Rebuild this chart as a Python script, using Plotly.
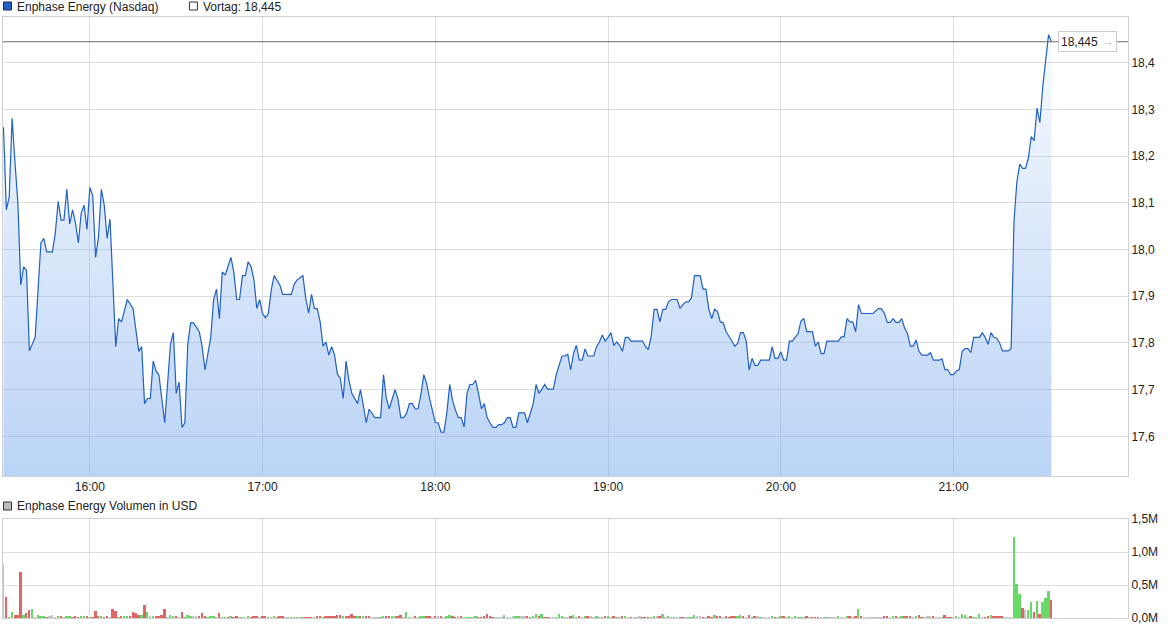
import plotly.graph_objects as go
from datetime import datetime, timedelta

# ---------------- data ----------------
SESSION_START = datetime(2024, 5, 6, 15, 30)
stock_name = "Enphase Energy"
exchange = "Nasdaq"
prev_close = 18.445
last_price = 18.445
x_tick_hours = [16, 17, 18, 19, 20, 21]
x_tick_labels = ["16:00", "17:00", "18:00", "19:00", "20:00", "21:00"]

# minutes after 15:30 and traded price
price_minute = [0,1,2,3,4,5,6,7,8,9,11,13,14,15,17,18,19,20,21,22,23,24,25,26,27,28,29,30,31,32,33,34,35,36,37,39,40,41,43,45,47,48,49,50,51,52,53,54,56,58,59,60,61,62,63,64,65,66,68,69,70,72,73,74,75,76,77,79,80,81,82,83,84,85,86,87,88,89,90,91,92,93,94,96,97,100,101,102,104,105,106,107,108,109,110,111,112,113,114,115,116,117,118,119,120,121,123,124,125,126,127,129,131,132,133,134,136,137,138,139,140,141,142,143,144,145,146,147,148,149,150,151,152,153,154,155,156,157,158,159,160,161,162,163,164,165,166,167,168,169,170,171,172,173,174,175,176,177,178,179,180,181,182,183,184,185,186,187,188,189,191,192,193,194,195,196,197,198,199,200,201,202,203,205,206,207,208,209,210,211,212,213,214,215,216,217,218,222,223,224,225,226,227,228,229,230,231,232,234,235,236,237,238,239,240,242,243,244,245,246,247,248,249,250,251,252,253,254,255,256,257,258,259,260,261,262,263,266,267,268,269,270,271,272,273,274,275,276,277,278,279,281,282,283,284,285,286,290,291,292,293,294,295,296,297,298,302,303,304,305,306,307,308,309,310,311,312,313,314,315,316,317,318,319,321,322,323,325,326,327,328,329,330,331,332,333,334,335,336,337,339,340,341,342,343,344,345,346,347,349,350,351,352,353,354,355,356,357,358,359,360,361,362,363,364]
price_value = [18.262,18.085,18.113,18.281,18.186,18.100,17.924,17.963,17.955,17.783,17.812,18.014,18.024,17.995,17.995,18.035,18.103,18.063,18.063,18.129,18.055,18.085,18.057,18.014,18.078,18.095,18.043,18.133,18.115,17.983,18.027,18.129,18.095,18.024,18.065,17.792,17.852,17.845,17.893,17.874,17.782,17.792,17.670,17.681,17.681,17.761,17.740,17.731,17.629,17.797,17.822,17.692,17.716,17.619,17.629,17.797,17.843,17.843,17.824,17.792,17.742,17.812,17.893,17.915,17.852,17.952,17.945,17.983,17.952,17.893,17.893,17.944,17.944,17.974,17.963,17.935,17.874,17.893,17.863,17.854,17.863,17.913,17.944,17.924,17.904,17.904,17.926,17.935,17.944,17.895,17.864,17.904,17.874,17.873,17.845,17.793,17.802,17.774,17.792,17.774,17.733,17.724,17.681,17.761,17.720,17.692,17.670,17.700,17.666,17.629,17.658,17.640,17.640,17.732,17.681,17.659,17.700,17.681,17.640,17.640,17.649,17.670,17.670,17.659,17.659,17.690,17.732,17.713,17.681,17.656,17.629,17.629,17.609,17.609,17.650,17.711,17.677,17.656,17.640,17.640,17.620,17.692,17.711,17.711,17.720,17.692,17.659,17.670,17.640,17.629,17.619,17.619,17.625,17.625,17.629,17.640,17.640,17.619,17.619,17.650,17.650,17.650,17.629,17.650,17.670,17.711,17.692,17.701,17.711,17.701,17.701,17.732,17.752,17.772,17.772,17.776,17.742,17.777,17.795,17.763,17.763,17.787,17.772,17.772,17.792,17.802,17.817,17.804,17.812,17.822,17.794,17.802,17.795,17.782,17.812,17.812,17.804,17.804,17.792,17.786,17.815,17.872,17.872,17.845,17.872,17.872,17.888,17.893,17.893,17.874,17.882,17.888,17.888,17.897,17.944,17.944,17.915,17.915,17.872,17.852,17.872,17.867,17.845,17.843,17.824,17.815,17.804,17.793,17.799,17.822,17.822,17.804,17.742,17.767,17.752,17.752,17.763,17.763,17.792,17.767,17.767,17.781,17.763,17.763,17.804,17.804,17.812,17.820,17.847,17.852,17.824,17.824,17.793,17.802,17.777,17.777,17.804,17.804,17.813,17.813,17.852,17.845,17.845,17.824,17.882,17.863,17.863,17.869,17.874,17.873,17.863,17.844,17.844,17.852,17.844,17.844,17.852,17.832,17.820,17.793,17.793,17.806,17.782,17.774,17.774,17.779,17.763,17.763,17.766,17.743,17.743,17.732,17.732,17.740,17.743,17.782,17.788,17.788,17.779,17.812,17.812,17.822,17.812,17.797,17.822,17.812,17.810,17.800,17.783,17.783,17.788,18.060,18.145,18.183,18.174,18.174,18.196,18.242,18.233,18.303,18.272,18.349,18.406,18.460,18.445]

# volume per minute from 15:30, in thousand USD
volume_k = [
    825,325,10,85,50,50,695,40,70,125,
    140,8,50,25,20,8,25,40,10,20,
    20,10,20,20,8,35,10,20,20,20,
    8,8,110,25,35,8,20,10,135,110,
    8,20,20,20,35,85,70,50,50,200,
    85,20,20,20,35,50,135,8,50,20,
    35,8,85,8,50,20,20,20,20,70,
    35,8,20,20,8,70,8,8,8,35,
    8,20,8,8,8,20,8,20,35,8,
    20,20,8,8,35,8,20,20,8,8,
    8,8,8,8,8,15,8,8,8,20,
    20,8,20,35,20,35,50,50,35,35,
    20,65,35,20,20,35,20,20,8,8,
    8,8,35,35,20,20,20,20,50,8,
    95,8,8,20,8,20,20,20,20,8,
    35,20,35,8,35,50,20,15,20,20,
    15,15,8,8,35,10,10,35,65,20,
    10,10,10,5,50,10,10,20,20,35,
    35,20,35,15,35,65,20,65,10,10,
    5,5,10,65,20,5,10,20,50,15,
    20,10,20,20,35,15,35,15,15,20,
    20,10,35,15,10,20,35,5,10,10,
    5,20,10,10,10,15,20,35,20,65,
    10,20,10,10,5,10,10,10,10,10,
    50,20,20,10,10,35,10,50,20,20,
    10,20,15,20,35,20,50,20,5,50,
    15,20,20,15,10,5,5,20,10,5,
    20,35,10,35,5,20,15,15,10,35,
    10,10,15,15,5,10,15,5,15,10,
    20,10,15,20,20,5,20,140,20,5,
    10,10,10,10,15,10,30,20,5,20,
    30,5,20,20,20,20,10,20,50,15,
    5,20,20,30,15,5,15,50,15,10,
    5,30,5,65,40,10,20,15,5,65,
    10,15,20,40,20,20,20,20,5,5,
    10,1220,515,365,155,125,125,245,95,260,
    65,245,305,410,275,
]
# g = up tick, r = down tick, n = unchanged
volume_dir = (
    "nrggrrrgrr" "gngggrnnng" "rnggrrrggr" "nrrrgrrnrr" "grggrrrrgr"
    "gngrrrrngg" "rnrgggnnrr" "rgggnrggrg" "rrngngrrrn" "rrgngrrrnn"
    "gggngrrrnr" "rgrrrrrrgr" "rrrgrgrrnn" "nggrrggrrn" "gnnrnggrrn"
    "rnrnggrrnr" "gggngrrrrr" "rnnngnnngg" "nnrgggrgrr" "nngggnnrgg"
    "rngrnngggr" "gnrgnrgnrn" "nnrrrggnrg" "ngngnrrngg" "gnnrnrrgrr"
    "nrrrrggrnr" "grngnnngrn" "grngngggnr" "nrrrnggnnn" "gnngrnrgrn"
    "nnnnnnrrng" "rngrrrngrr" "nnnrnngrrr" "ngnggnrgng" "nrrgrrrrnn"
    "ngggrnggrg" "rgggr"
)

# ---------------- layout helpers (pixels -> paper) ----------------
W, H = 1175, 630
PL, PR, PT, PB = 2.5, 1128.0, 17.0, 618.0
PRICE_BOTTOM = 476.0
VOL_TOP = 519.0


def fx(p):
    return (p - PL) / (PR - PL)


def fy(p):
    return (PB - p) / (PB - PT)


def de(v):
    return f"{v:.3f}".replace(".", ",")


FONT = "Arial, 'Liberation Sans', sans-serif"
TXT = "#222222"
GRID = "#dddddd"
FRAME = "#cfcfcf"

price_times = [SESSION_START + timedelta(minutes=m) for m in price_minute]
vol_times = [SESSION_START + timedelta(minutes=k) for k in range(len(volume_k))]
dir_color = {"g": "#66d966", "r": "#e06666", "n": "#c4c4c4"}
vol_colors = [dir_color[d] for d in volume_dir[:len(volume_k)]]
vol_m = [v / 1000.0 for v in volume_k]

x_start = SESSION_START - timedelta(seconds=10)
x_end = SESSION_START + timedelta(minutes=390, seconds=36)
tick_vals = [SESSION_START.replace(hour=h, minute=0) for h in x_tick_hours]

fig = go.Figure()

fig.add_trace(go.Scatter(
    x=price_times, y=price_value, mode="lines",
    line=dict(color="#2160c4", width=1.2),
    fill="tozeroy",
    fillgradient=dict(
        type="vertical",
        colorscale=[[0, "rgba(133,177,240,0.56)"], [1, "rgba(133,177,240,0.06)"]],
        start=17.515, stop=18.46,
    ),
    hoverinfo="skip", showlegend=False, xaxis="x", yaxis="y",
))

fig.add_trace(go.Bar(
    x=vol_times, y=vol_m, marker=dict(color=vol_colors, line=dict(width=0)),
    width=40000, hoverinfo="skip", showlegend=False, xaxis="x2", yaxis="y2",
))

price_dom0 = fy(PRICE_BOTTOM)
vol_dom1 = fy(VOL_TOP)

axis_common = dict(
    showgrid=True, gridcolor=GRID, gridwidth=1,
    showline=True, linecolor=FRAME, linewidth=1, mirror=True,
    zeroline=False, ticks="",
    tickfont=dict(family=FONT, size=12, color=TXT),
)

fig.update_layout(
    width=W, height=H,
    margin=dict(l=PL, r=W - PR, t=PT, b=H - PB, pad=0),
    paper_bgcolor="white", plot_bgcolor="white",
    separators=",.",
    font=dict(family=FONT, size=12, color=TXT),
    bargap=0,
    xaxis=dict(
        domain=[0, 1], anchor="y", type="date", range=[x_start, x_end],
        tickmode="array", tickvals=tick_vals, ticktext=x_tick_labels,
        **axis_common,
    ),
    xaxis2=dict(
        domain=[0, 1], anchor="y2", type="date", matches="x",
        tickmode="array", tickvals=tick_vals, showticklabels=False,
        **axis_common,
    ),
    yaxis=dict(
        domain=[price_dom0, 1], anchor="x", side="right",
        range=[17.515, 18.498], tick0=17.6, dtick=0.1, tickformat=".1f",
        **axis_common,
    ),
    yaxis2=dict(
        domain=[0, vol_dom1], anchor="x2", side="right",
        range=[0, 1.5], tick0=0, dtick=0.5, tickformat=".1f", ticksuffix="M",
        **axis_common,
    ),
)

shapes = [
    # previous close line
    dict(type="line", xref="paper", yref="y", x0=0, x1=1, y0=prev_close, y1=prev_close,
         line=dict(color="#6a6a6a", width=1)),
    # legend squares
    dict(type="rect", xref="paper", yref="paper", x0=fx(3), x1=fx(11), y0=fy(10), y1=fy(2),
         fillcolor="#2160c4", line=dict(color="#1a2a4a", width=1)),
    dict(type="rect", xref="paper", yref="paper", x0=fx(189), x1=fx(197), y0=fy(10), y1=fy(2),
         fillcolor="white", line=dict(color="#333333", width=1)),
    dict(type="rect", xref="paper", yref="paper", x0=fx(3), x1=fx(11), y0=fy(510), y1=fy(502),
         fillcolor="#bdbdbd", line=dict(color="#333333", width=1)),
]
fig.update_layout(shapes=shapes)

annotations = [
    dict(xref="paper", yref="paper", x=fx(15), y=fy(6.5), xanchor="left", yanchor="middle",
         text=f"{stock_name} ({exchange})", showarrow=False,
         font=dict(family=FONT, size=12, color=TXT)),
    dict(xref="paper", yref="paper", x=fx(201), y=fy(6.5), xanchor="left", yanchor="middle",
         text=f"Vortag: {de(prev_close)}", showarrow=False,
         font=dict(family=FONT, size=12, color=TXT)),
    dict(xref="paper", yref="paper", x=fx(15), y=fy(506.5), xanchor="left", yanchor="middle",
         text=f"{stock_name} Volumen in USD", showarrow=False,
         font=dict(family=FONT, size=12, color=TXT)),
    dict(xref="paper", yref="y", x=fx(1058), y=last_price, xanchor="left", yanchor="middle",
         text=f"{de(last_price)} <b><span style='color:#bdbdbd;font-size:13px'>→</span></b>",
         showarrow=False,
         bgcolor="white", bordercolor="#cccccc", borderwidth=1, borderpad=2,
         font=dict(family=FONT, size=12, color=TXT)),
]
fig.update_layout(annotations=annotations)

fig.write_html(
    "out.html",
    config={"displayModeBar": False},
    post_script="document.body.style.margin='0';document.body.style.padding='0';",
)
